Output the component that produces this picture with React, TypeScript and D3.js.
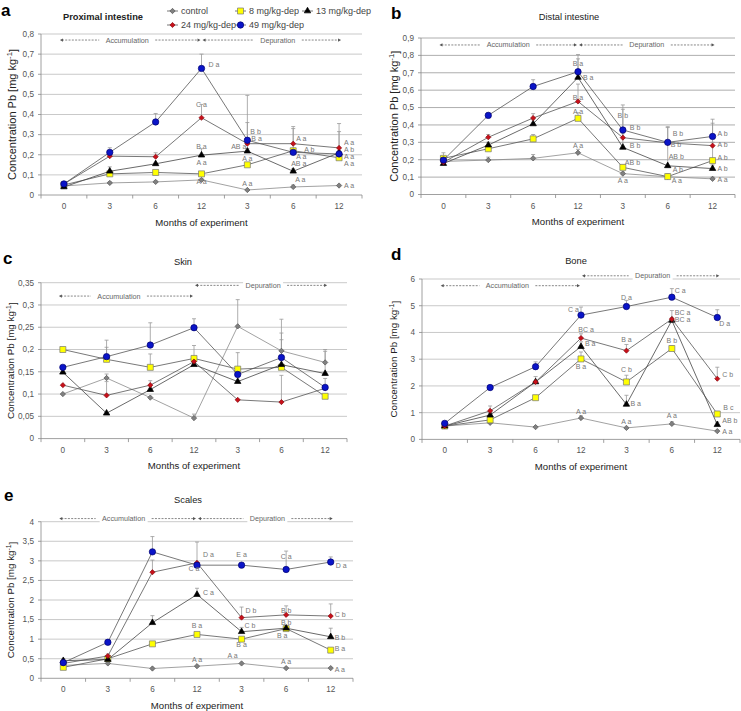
import React from "react";
import * as d3 from "d3";

const months = ["0", "3", "6", "12", "3", "6", "12"];
const seriesNames = ["control", "8 mg/kg-dep", "13 mg/kg-dep", "24 mg/kg-dep", "49 mg/kg-dep"];

// a – Proximal intestine
const proxControl = [0.045, 0.06, 0.065, 0.075, 0.025, 0.04, 0.047];
const prox8 = [0.05, 0.105, 0.112, 0.105, 0.15, 0.22, 0.185];
const prox13 = [0.04, 0.118, 0.155, 0.198, 0.218, 0.118, 0.21];
const prox24 = [0.055, 0.193, 0.19, 0.384, 0.255, 0.255, 0.234];
const prox49 = [0.055, 0.212, 0.363, 0.629, 0.272, 0.212, 0.204];
const proxErrControl = [null, 0.065, 0.07, 0.08, null, 0.05, null];
const proxErr8 = [0.06, 0.115, 0.12, 0.11, null, 0.23, 0.19];
const proxErr13 = [0.045, 0.14, 0.16, 0.23, 0.23, 0.13, 0.22];
const proxErr24 = [0.06, 0.2, 0.21, 0.45, 0.36, 0.33, 0.315];
const proxErr49 = [0.06, 0.235, 0.405, 0.7, 0.495, 0.34, 0.355];
const proxLabels = [
  [3, 0.65, "D a", "start", 7], [3, 0.448, "C a", "middle", 0], [3, 0.24, "B a", "middle", 0],
  [3, 0.16, "A a", "middle", 0], [3, 0.066, "A a", "middle", 0],
  [4, 0.316, "B b", "start", 3], [4, 0.279, "B a", "start", 4], [4, 0.24, "AB a", "end", -1],
  [4, 0.18, "A a", "middle", 0], [4, 0.055, "A a", "middle", 0],
  [5, 0.279, "A a", "start", 3], [5, 0.228, "A b", "start", 11], [5, 0.192, "A a", "start", 3],
  [5, 0.155, "AB a", "start", -2], [5, 0.075, "A a", "start", 2],
  [6, 0.262, "A a", "start", 5], [6, 0.226, "A b", "start", 5], [6, 0.19, "A a", "start", 5],
  [6, 0.154, "A a", "start", 5], [6, 0.045, "A a", "start", 5],
];

// b – Distal intestine
const distControl = [0.19, 0.198, 0.208, 0.24, 0.12, 0.102, 0.09];
const dist8 = [0.208, 0.263, 0.32, 0.438, 0.156, 0.103, 0.195];
const dist13 = [0.178, 0.284, 0.406, 0.673, 0.271, 0.165, 0.149];
const dist24 = [0.185, 0.329, 0.44, 0.535, 0.327, 0.297, 0.281];
const dist49 = [0.198, 0.455, 0.621, 0.706, 0.371, 0.3, 0.334];
const distErrControl = [0.21, 0.215, 0.23, 0.26, 0.13, 0.11, 0.1];
const distErr8 = [0.24, 0.28, 0.345, 0.47, 0.17, 0.12, 0.41];
const distErr13 = [0.19, 0.3, 0.43, 0.78, 0.49, 0.385, 0.17];
const distErr24 = [0.2, 0.345, 0.465, 0.635, 0.35, 0.31, 0.3];
const distErr49 = [0.21, 0.47, 0.66, 0.805, 0.515, 0.39, 0.433];
const distLabels = [
  [3, 0.752, "B a", "middle", 0], [3, 0.675, "B a", "start", 5], [3, 0.56, "B a", "middle", 0],
  [3, 0.477, "A a", "middle", 0], [3, 0.28, "A a", "middle", 0],
  [4, 0.452, "B b", "middle", 0], [4, 0.387, "B b", "start", 7], [4, 0.28, "B b", "start", 7],
  [4, 0.185, "AB b", "start", 2], [4, 0.083, "A a", "middle", 0],
  [5, 0.352, "B b", "start", 5], [5, 0.285, "B b", "start", 3], [5, 0.22, "AB b", "start", 1],
  [5, 0.144, "A b", "start", 5], [5, 0.081, "A a", "start", 4],
  [6, 0.352, "A b", "start", 5], [6, 0.285, "A b", "start", 5], [6, 0.213, "A b", "start", 5],
  [6, 0.15, "A b", "start", 5], [6, 0.087, "A a", "start", 5],
];

// c – Skin
const skinControl = [0.1, 0.136, 0.092, 0.046, 0.252, 0.197, 0.171];
const skin8 = [0.2, 0.178, 0.16, 0.18, 0.156, 0.16, 0.095];
const skin13 = [0.149, 0.057, 0.11, 0.166, 0.128, 0.166, 0.146];
const skin24 = [0.12, 0.097, 0.12, 0.173, 0.087, 0.082, 0.113];
const skin49 = [0.16, 0.184, 0.21, 0.249, 0.144, 0.182, 0.115];
const skinErrControl = [null, 0.145, null, 0.055, 0.312, 0.268, 0.2];
const skinErr8 = [null, 0.221, 0.19, 0.209, 0.193, 0.222, null];
const skinErr13 = [null, null, null, null, null, null, 0.196];
const skinErr24 = [null, 0.128, 0.13, null, null, 0.142, null];
const skinErr49 = [null, 0.205, 0.26, 0.269, null, 0.237, 0.135];
const skinLabels: any[] = [];

// d – Bone
const boneControl = [0.5, 0.62, 0.46, 0.8, 0.43, 0.58, 0.31];
const bone8 = [0.5, 0.73, 1.56, 3.01, 2.15, 3.4, 0.95];
const bone13 = [0.5, 0.91, 2.15, 3.47, 1.31, 4.45, 0.55];
const bone24 = [0.5, 1.07, 2.15, 3.79, 3.32, 4.5, 2.27];
const bone49 = [0.6, 1.94, 2.72, 4.65, 4.97, 5.32, 4.56];
const boneErrControl = [null, null, null, 0.88, null, 0.66, null];
const boneErr8 = [null, 0.8, 1.65, 3.27, 2.4, 3.5, 1.05];
const boneErr13 = [null, 1.0, 2.2, 3.65, 1.65, 4.55, 0.65];
const boneErr24 = [null, 1.25, 2.35, 3.95, 3.55, 4.82, 2.7];
const boneErr49 = [null, 2.0, 2.9, 4.95, 5.2, 5.64, 4.85];
const boneLabels = [
  [3, 4.87, "C a", "end", -2], [4, 5.31, "D a", "middle", 0], [5, 5.58, "C a", "start", 3],
  [5, 4.76, "BC a", "start", 3], [5, 4.48, "BC a", "start", 3], [6, 4.35, "D a", "start", 2],
  [3, 4.12, "BC a", "middle", 5], [3, 3.58, "B a", "start", 4], [3, 2.73, "B a", "middle", 0],
  [4, 3.73, "B a", "middle", 0], [4, 2.6, "C b", "middle", 0], [4, 1.35, "B a", "start", 4],
  [5, 3.68, "B b", "middle", 0], [6, 2.41, "C b", "start", 5], [6, 1.2, "B c", "start", 6],
  [3, 1.05, "A a", "middle", 0], [4, 0.68, "A a", "middle", 0], [5, 0.9, "A a", "middle", 0],
  [6, 0.69, "AB b", "start", 5], [6, 0.3, "A a", "start", 5],
];

// e – Scales
const scalesControl = [0.33, 0.38, 0.25, 0.31, 0.38, 0.26, 0.26];
const scales8 = [0.28, 0.5, 0.88, 1.12, 1.0, 1.27, 0.72];
const scales13 = [0.45, 0.48, 1.42, 2.14, 1.19, 1.28, 1.06];
const scales24 = [0.38, 0.57, 2.71, 2.95, 1.55, 1.62, 1.59];
const scales49 = [0.4, 0.92, 3.23, 2.89, 2.89, 2.78, 2.97];
const scalesErrControl = [null, null, null, null, null, null, null];
const scalesErr8 = [null, null, null, null, null, 1.35, null];
const scalesErr13 = [0.5, null, 1.6, 2.3, 1.3, null, 1.28];
const scalesErr24 = [null, 0.62, 3.02, 3.48, 1.82, 1.85, 1.9];
const scalesErr49 = [null, null, 3.62, null, null, 3.25, 3.1];
const scalesLabels = [
  [3, 3.17, "D a", "start", 6], [3, 2.8, "C a", "middle", -3], [4, 3.15, "E a", "middle", 0],
  [5, 3.1, "C a", "middle", 0], [6, 2.89, "D a", "start", 5], [3, 2.19, "C a", "start", 6],
  [4, 1.73, "D b", "start", 4], [5, 1.74, "B b", "middle", 0], [6, 1.64, "C b", "start", 4],
  [4, 1.36, "C b", "start", 3], [5, 1.43, "B b", "middle", 0], [5, 1.1, "B a", "middle", -4],
  [3, 1.36, "B a", "middle", 0], [4, 0.85, "B a", "middle", 0], [6, 1.05, "B b", "start", 4],
  [6, 0.77, "B a", "start", 4], [3, 0.47, "A a", "middle", 0], [4, 0.57, "A a", "middle", -9],
  [5, 0.43, "A a", "middle", 0], [6, 0.23, "A a", "start", 4],
];

const FONT = "'Liberation Sans', Arial, Helvetica, sans-serif";

const styles = [
  { fill: "#808080", stroke: "#555", line: "#8a8a8a", sym: d3.symbolDiamond2, size: 18 },
  { fill: "#ffff00", stroke: "#777", line: "#555", sym: d3.symbolSquare, size: 36 },
  { fill: "#000", stroke: "#000", line: "#444", sym: d3.symbolTriangle, size: 18 },
  { fill: "#c8101a", stroke: "#8a0a10", line: "#555", sym: d3.symbolDiamond2, size: 17 },
  { fill: "#0a14c8", stroke: "#000070", line: "#555", sym: d3.symbolCircle, size: 32 },
];

const panels = [
  {
    letter: "a", title: "Proximal intestine", bold: true, left: 41, right: 362, top: 34, bottom: 195,
    yMax: 0.8, step: 0.1, grid: "#bbb",
    values: [proxControl, prox8, prox13, prox24, prox49],
    errs: [proxErrControl, proxErr8, proxErr13, proxErr24, proxErr49], labels: proxLabels,
    accY: 0.77, depY: 0.77, accShift: -3, depShift: 6, titleX: 103, titleY: 20, letterX: 1, letterY: 16,
    yTitleX: 12, yTitleSize: 11,
  },
  {
    letter: "b", title: "Distal intestine", bold: false, left: 421, right: 735, top: 38, bottom: 194.5,
    yMax: 0.9, step: 0.1, grid: "#999",
    values: [distControl, dist8, dist13, dist24, dist49],
    errs: [distErrControl, distErr8, distErr13, distErr24, distErr49], labels: distLabels,
    accY: 0.86, depY: 0.86, accShift: 0, depShift: 0, titleX: 569, titleY: 20, letterX: 391, letterY: 19,
    yTitleX: 394, yTitleSize: 11,
  },
  {
    letter: "c", title: "Skin", bold: false, left: 41, right: 347, top: 282.7, bottom: 438.6,
    yMax: 0.35, step: 0.05, grid: "#bbb",
    values: [skinControl, skin8, skin13, skin24, skin49],
    errs: [skinErrControl, skinErr8, skinErr13, skinErr24, skinErr49], labels: skinLabels,
    accY: 0.32, depY: 0.344, accShift: -7, depShift: 2, titleX: 183, titleY: 265, letterX: 3, letterY: 264,
    yTitleX: 11, yTitleSize: 9.8,
  },
  {
    letter: "d", title: "Bone", bold: false, left: 422, right: 740, top: 279, bottom: 439.4,
    yMax: 6, step: 1, grid: "#bbb",
    values: [boneControl, bone8, bone13, bone24, bone49],
    errs: [boneErrControl, boneErr8, boneErr13, boneErr24, boneErr49], labels: boneLabels,
    accY: 5.75, depY: 6.12, accShift: -3, depShift: 2, titleX: 576, titleY: 264, letterX: 391, letterY: 260,
    yTitleX: 394, yTitleSize: 9.8,
  },
  {
    letter: "e", title: "Scales", bold: false, left: 41, right: 353, top: 521.7, bottom: 678.3,
    yMax: 4, step: 0.5, grid: "#bbb",
    values: [scalesControl, scales8, scales13, scales24, scales49],
    errs: [scalesErrControl, scalesErr8, scalesErr13, scalesErr24, scalesErr49], labels: scalesLabels,
    accY: 4.08, depY: 4.08, accShift: -4, depShift: 2, titleX: 188, titleY: 503, letterX: 4, letterY: 501,
    yTitleX: 11, yTitleSize: 9.8,
  },
];

const fmt = (v: number) => String(v).replace(".", ",");

function Marker({ i, x, y }: { i: number; x: number; y: number }) {
  const s = styles[i];
  const path = d3.symbol().type(s.sym).size(s.size)()!;
  return <path d={path} transform={`translate(${x},${y})`} fill={s.fill} stroke={s.stroke} strokeWidth={0.7} />;
}

function ArrowRow({ x1, x2, y, text, shift, halfW }: any) {
  const c = (x1 + x2) / 2 + shift;
  const col = "#555";
  const ah = 3;
  return (
    <g>
      <line x1={x1 + 2} x2={c - halfW - 7} y1={y} y2={y} stroke={col} strokeWidth={0.7} strokeDasharray="2,1.3" />
      <line x1={c + halfW + 7} x2={x2 - 2} y1={y} y2={y} stroke={col} strokeWidth={0.7} strokeDasharray="2,1.3" />
      <path d={`M${x1},${y} l${ah},${-1.6} l0,3.2 z`} fill={col} />
      <path d={`M${x2},${y} l${-ah},${-1.6} l0,3.2 z`} fill={col} />
      <rect x={c - halfW - 3} y={y - 5} width={2 * halfW + 6} height={10} fill="#fff" />
      <text x={c} y={y} dy="0.35em" textAnchor="middle" fontSize={7.2} fill="#666" fontFamily={FONT}>
        {text}
      </text>
    </g>
  );
}

function Panel({ p }: { p: any }) {
  const x = d3.scaleBand().domain(months.map((_, i) => String(i))).range([p.left, p.right]);
  const y = d3.scaleLinear().domain([0, p.yMax]).range([p.bottom, p.top]);
  const cx = (i: number) => (x(String(i)) as number) + x.bandwidth() / 2;
  const ticks = d3.range(0, Math.round(p.yMax / p.step) + 1).map((i) => +(i * p.step).toFixed(2));
  const line = d3
    .line<number>()
    .x((_, i) => cx(i))
    .y((d) => y(d));
  const boundaries = d3.range(0, months.length + 1).map((i) => p.left + i * x.bandwidth());
  const midY = (p.top + p.bottom) / 2;
  return (
    <g>
      {ticks.map((t) =>
        t > 0 ? (
          <line key={"g" + t} x1={p.left} x2={p.right} y1={y(t)} y2={y(t)} stroke={p.grid} strokeWidth={0.8} />
        ) : null
      )}
      <line x1={p.left} x2={p.left} y1={p.top} y2={p.bottom} stroke="#888" strokeWidth={0.8} />
      {ticks.map((t) => (
        <g key={"t" + t}>
          <line x1={p.left - 3} x2={p.left} y1={y(t)} y2={y(t)} stroke="#888" strokeWidth={0.8} />
          <text x={p.left - 7} y={y(t)} dy="0.35em" textAnchor="end" fontSize={8.2} fill="#555" fontFamily={FONT}>
            {fmt(t)}
          </text>
        </g>
      ))}
      <line x1={p.left} x2={p.right} y1={p.bottom} y2={p.bottom} stroke="#888" strokeWidth={0.8} />
      {boundaries.map((b, i) => (
        <line key={"b" + i} x1={b} x2={b} y1={p.bottom} y2={p.bottom + 3.5} stroke="#888" strokeWidth={0.8} />
      ))}
      {months.map((m, i) => (
        <text key={"m" + i} x={cx(i)} y={p.bottom + 14} textAnchor="middle" fontSize={8.2} fill="#555" fontFamily={FONT}>
          {m}
        </text>
      ))}
      <text
        x={(p.left + p.right) / 2}
        y={p.bottom + 30.5}
        textAnchor="middle"
        fontSize={9.6}
        fill="#222"
        fontFamily={FONT}
      >
        Months of experiment
      </text>
      <text
        transform={`translate(${p.yTitleX},${midY}) rotate(-90)`}
        textAnchor="middle"
        dy="0.35em"
        fontSize={p.yTitleSize}
        fill="#222"
        fontFamily={FONT}
      >
        Concentration Pb [mg kg
        <tspan dy="-0.45em" fontSize={p.yTitleSize * 0.7}>
          -1
        </tspan>
        <tspan dy="0.45em">]</tspan>
      </text>
      <text x={p.titleX} y={p.titleY} textAnchor="middle" fontSize={9.3} fontWeight={p.bold ? "bold" : "normal"} fill="#222" fontFamily={FONT}>
        {p.title}
      </text>
      <text x={p.letterX} y={p.letterY} fontSize={17} fontWeight="bold" fill="#000" fontFamily={FONT}>
        {p.letter}
      </text>
      <ArrowRow x1={cx(0) - 4} x2={cx(3) - 1} y={y(p.accY)} text="Accumulation" shift={p.accShift} halfW={21} />
      <ArrowRow x1={cx(3) + 1} x2={cx(6) + 2} y={y(p.depY)} text="Depuration" shift={p.depShift} halfW={17} />
      {p.errs.map((errs: (number | null)[], si: number) =>
        errs.map((e, i) =>
          e == null ? null : (
            <g key={`e${si}-${i}`}>
              <line x1={cx(i)} x2={cx(i)} y1={y(p.values[si][i])} y2={y(e)} stroke="#999" strokeWidth={0.8} />
              <line x1={cx(i) - 2} x2={cx(i) + 2} y1={y(e)} y2={y(e)} stroke="#999" strokeWidth={0.8} />
            </g>
          )
        )
      )}
      {p.values.map((vals: number[], si: number) => (
        <g key={"s" + si}>
          <path d={line(vals)!} fill="none" stroke={styles[si].line} strokeWidth={0.8} />
          {vals.map((v, i) => (
            <Marker key={i} i={si} x={cx(i)} y={y(v)} />
          ))}
        </g>
      ))}
      {p.labels.map((l: any[], k: number) => (
        <text
          key={"l" + k}
          x={cx(l[0]) + l[4]}
          y={y(l[1])}
          dy="0.35em"
          textAnchor={l[3]}
          fontSize={7}
          fill="#777"
          fontFamily={FONT}
        >
          {l[2]}
        </text>
      ))}
    </g>
  );
}

function Legend() {
  const items = [
    { i: 0, x: 167, y: 11 },
    { i: 1, x: 235, y: 11 },
    { i: 2, x: 302, y: 11 },
    { i: 3, x: 167, y: 25 },
    { i: 4, x: 235, y: 25 },
  ];
  return (
    <g>
      {items.map((it) => (
        <g key={it.i}>
          <line x1={it.x} x2={it.x + 11} y1={it.y} y2={it.y} stroke="#555" strokeWidth={0.8} />
          <Marker i={it.i} x={it.x + 5.5} y={it.y} />
          <text x={it.x + 14} y={it.y} dy="0.35em" fontSize={9} fill="#444" fontFamily={FONT}>
            {seriesNames[it.i]}
          </text>
        </g>
      ))}
    </g>
  );
}

export default function App() {
  return (
    <svg
      width={741}
      height={711}
      viewBox="0 0 741 711"
      style={{ position: "absolute", left: 0, top: 0, background: "#fff" }}
    >
      <rect x={0} y={0} width={741} height={711} fill="#fff" />
      {panels.map((p) => (
        <Panel key={p.letter} p={p} />
      ))}
      <Legend />
    </svg>
  );
}
